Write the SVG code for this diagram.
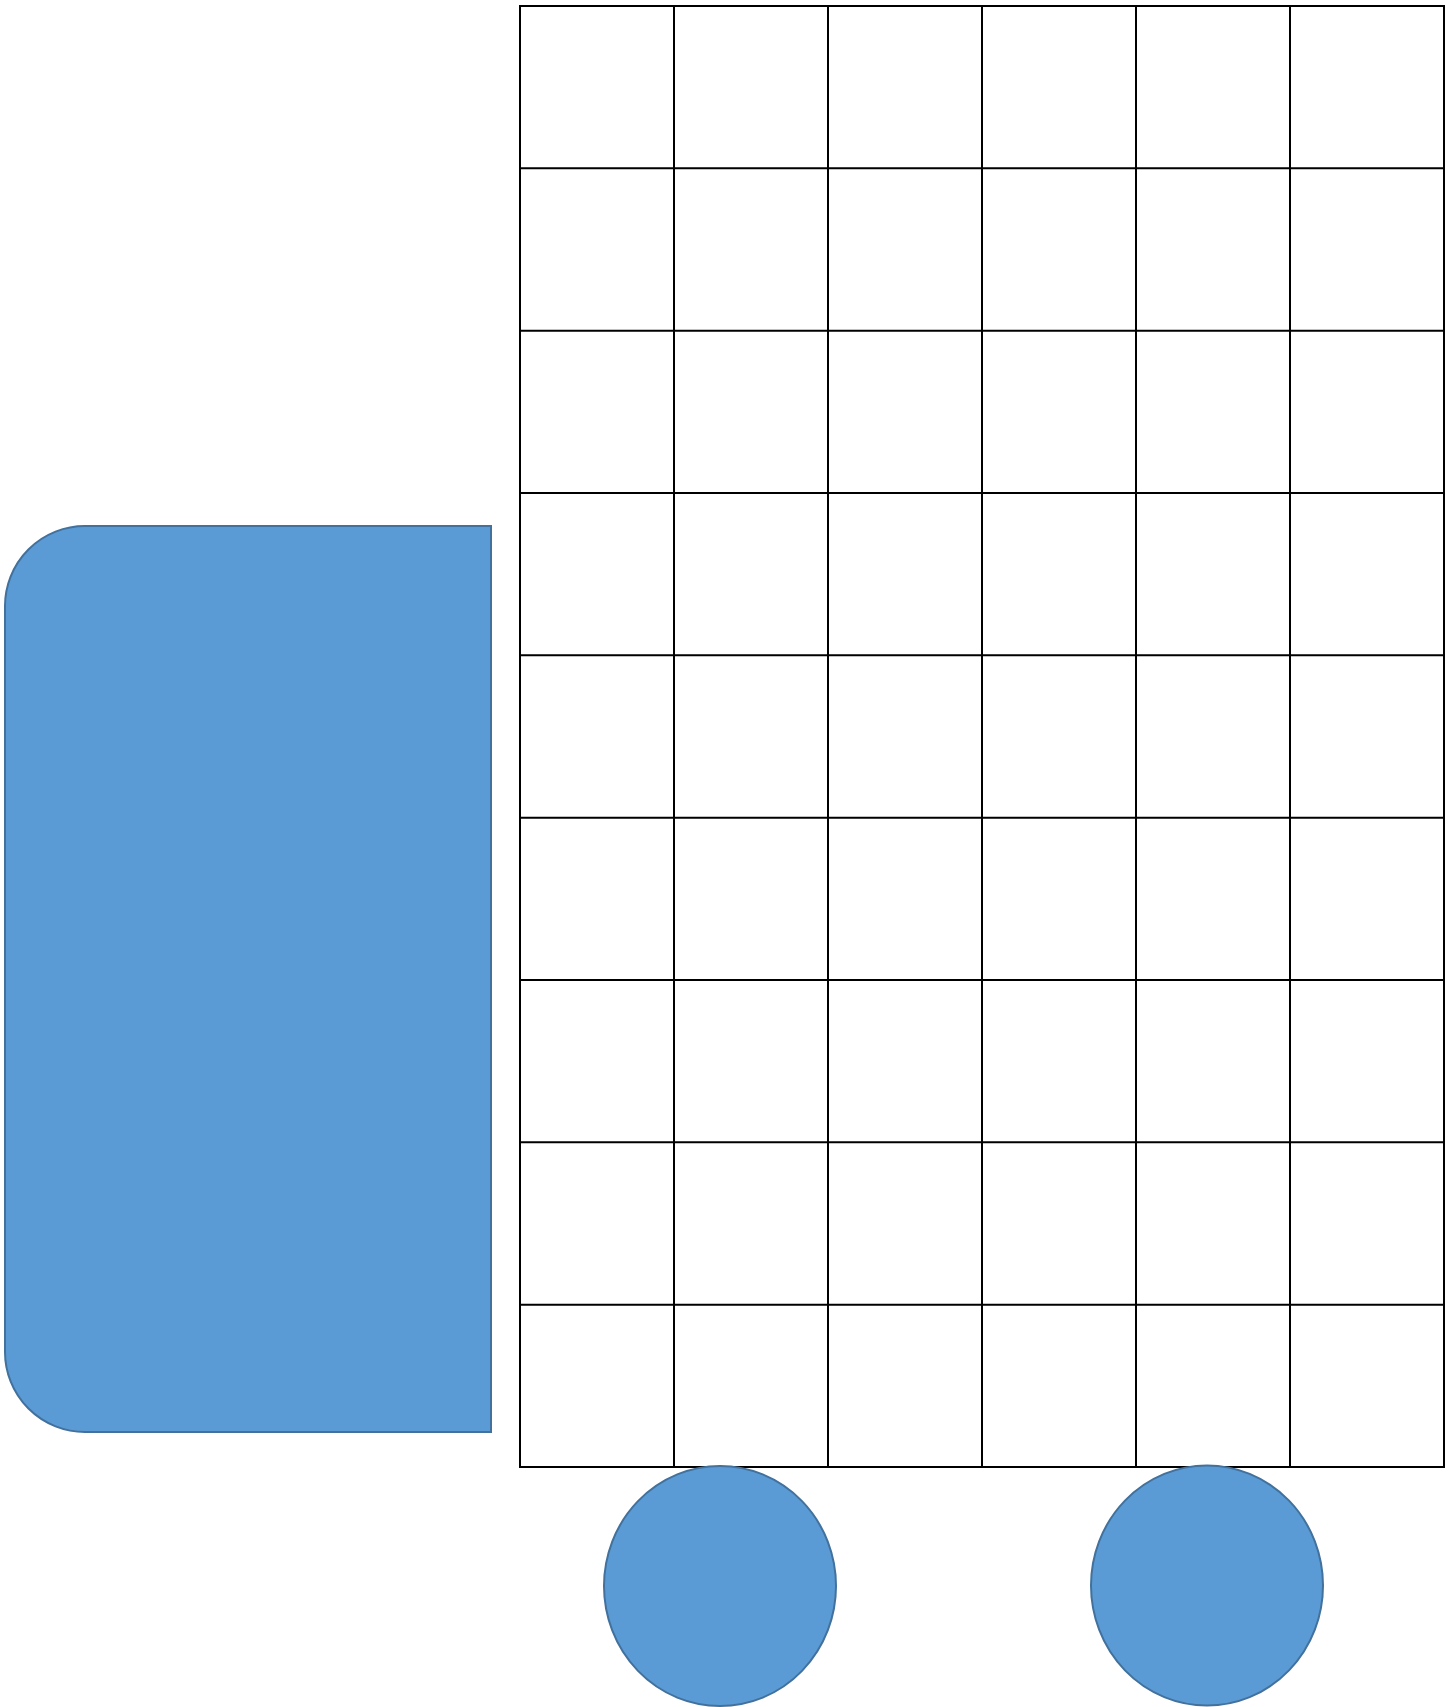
<svg xmlns="http://www.w3.org/2000/svg" width="1455" height="1707" viewBox="0 0 1455 1707">
<style>
.blue{fill:#5B9BD5;stroke:#41719C;stroke-width:2}
.grid{stroke:#000;stroke-width:2;fill:none}
</style>
<rect width="1455" height="1707" fill="#fff"/>
<g id="cab"><path class="blue" d="M491,526 L85,526 A80,80 0 0 0 5,606 L5,1352 A80,80 0 0 0 85,1432 L491,1432 Z"/></g>
<g id="cargo">
<rect class="grid" x="520" y="6" width="924" height="1461"/>
<path class="grid" d="M674,6V1467M828,6V1467M982,6V1467M1136,6V1467M1290,6V1467M520,168.3H1444M520,330.7H1444M520,493H1444M520,655.3H1444M520,817.7H1444M520,980H1444M520,1142.3H1444M520,1304.7H1444"/>
</g>
<g id="wheel1"><ellipse class="blue" cx="720" cy="1586" rx="116" ry="120"/></g>
<g id="wheel2"><ellipse class="blue" cx="1207" cy="1585.5" rx="116" ry="120"/></g>
<g id="connectors"/>
</svg>
